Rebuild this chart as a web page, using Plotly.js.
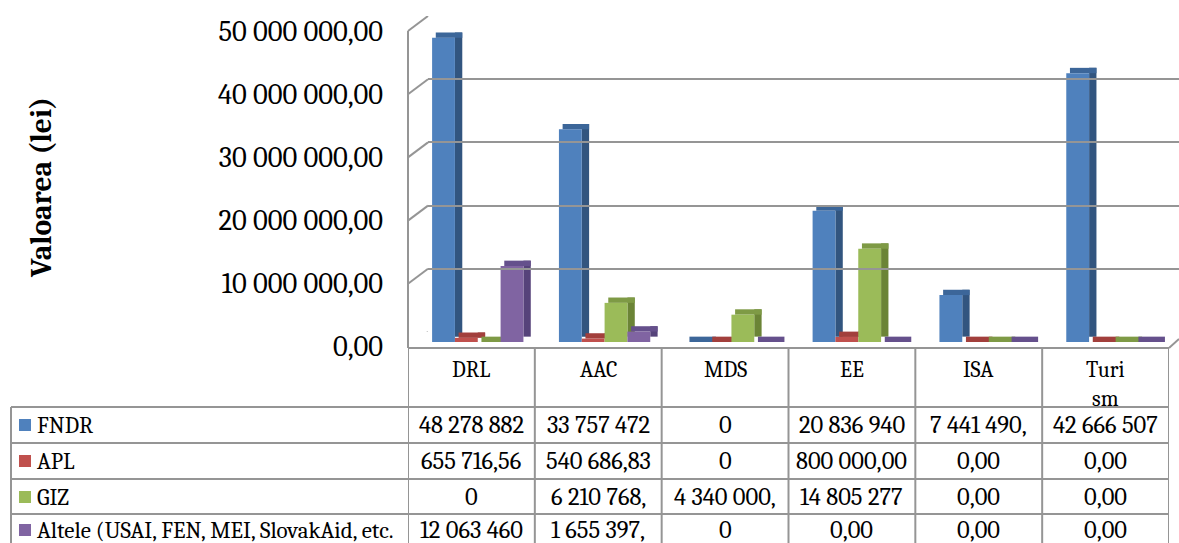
<!DOCTYPE html>
<html>
<head>
<meta charset="utf-8">
<script src="https://cdn.plot.ly/plotly-3.0.1.min.js"></script>
<style>html,body{margin:0;padding:0;background:#fff}#chart{width:1179px;height:543px}</style>
</head>
<body>
<div id="chart"></div>
<script>
// ---- data ----
const categories = ['DRL', 'AAC', 'MDS', 'EE', 'ISA', 'Turism'];
const headerLabels = ['DRL', 'AAC', 'MDS', 'EE', 'ISA', 'Turi<br>sm'];
const seriesNames = ['FNDR', 'APL', 'GIZ', 'Altele (USAI, FEN, MEI, SlovakAid, etc.'];
const fndr   = [48278882, 33757472, 0, 20836940, 7441490, 42666507];
const apl    = [655716.56, 540686.83, 0, 800000, 0, 0];
const giz    = [0, 6210768, 4340000, 14805277, 0, 0];
const altele = [12063460, 1655397, 0, 0, 0, 0];
const fndrCells   = ['48 278 882', '33 757 472', '0', '20 836 940', '7 441 490,', '42 666 507'];
const aplCells    = ['655 716,56', '540 686,83', '0', '800 000,00', '0,00', '0,00'];
const gizCells    = ['0', '6 210 768,', '4 340 000,', '14 805 277', '0,00', '0,00'];
const alteleCells = ['12 063 460', '1 655 397,', '0', '0,00', '0,00', '0,00'];
const tickValues = [0, 10000000, 20000000, 30000000, 40000000, 50000000];
const tickLabels = ['0,00', '10 000 000,00', '20 000 000,00', '30 000 000,00', '40 000 000,00', '50 000 000,00'];
const yTitle = 'Valoarea (lei)';

// ---- styling ----
const W = 1179, H = 543;
const px = x => x / W;
const py = y => 1 - y / H;
const FONT = 'Cambria';
const frontColors = ['#4F81BD', '#C0504D', '#9BBB59', '#8064A2'];
const sideColors  = ['#32557F', '#8A3431', '#6B8436', '#56437A'];
const topColors   = ['#3C6699', '#A23F3C', '#7E9A45', '#65508C'];
const gridColor = '#959595';

const seriesValues = [fndr, apl, giz, altele];
const seriesCells = [fndrCells, aplCells, gizCells, alteleCells];

const barW = 0.18, off0 = -0.31, dx = 0.058, dz = 850000;

const traces = [];
traces.push({type: 'scatter', x: [], y: [], xaxis: 'x2', yaxis: 'y2', showlegend: false, hoverinfo: 'skip'});
seriesValues.forEach((vals, k) => {
  traces.push({type: 'bar', x: categories, y: vals, base: dz, width: dx, offset: off0 + (k + 1) * barW,
    marker: {color: sideColors[k], line: {width: 0}}, showlegend: false, hoverinfo: 'skip'});
});
seriesValues.forEach((vals, k) => {
  traces.push({type: 'bar', x: categories, y: vals.map(() => dz), base: vals, width: barW + dx * 0.5,
    offset: off0 + k * barW + dx * 0.5,
    marker: {color: topColors[k], line: {width: 0}}, showlegend: false, hoverinfo: 'skip'});
});
seriesValues.forEach((vals, k) => {
  traces.push({type: 'bar', name: seriesNames[k], x: categories, y: vals, width: barW, offset: off0 + k * barW,
    marker: {color: frontColors[k], line: {width: 0}}, showlegend: false});
});

const lineStyle = {color: gridColor, width: 2};
const shapes = [];
shapes.push({type: 'line', xref: 'paper', yref: 'paper', x0: px(408), x1: px(408), y0: py(31), y1: py(348), line: lineStyle});
tickValues.forEach(v => {
  shapes.push({type: 'line', xref: 'paper', yref: 'y2', ysizemode: 'pixel', yanchor: v,
    x0: px(428), x1: px(408), y0: 0, y1: -15, line: lineStyle});
});
shapes.push({type: 'line', xref: 'paper', yref: 'paper', x0: px(1169), x1: px(1179), y0: py(348), y1: py(339), line: lineStyle});
shapes.push({type: 'line', xref: 'paper', yref: 'paper', x0: px(408), x1: px(1169), y0: py(348), y1: py(348), line: lineStyle});
for (let i = 0; i <= categories.length; i++) {
  shapes.push({type: 'line', xref: 'x', yref: 'paper', x0: i - 0.5, x1: i - 0.5, y0: py(348), y1: 0, line: lineStyle});
}
const rowLines = [407, 443, 479, 514];
rowLines.forEach(yy => {
  shapes.push({type: 'line', xref: 'paper', yref: 'paper', x0: px(11), x1: px(1169), y0: py(yy), y1: py(yy), line: lineStyle});
});
shapes.push({type: 'line', xref: 'paper', yref: 'paper', x0: px(11), x1: px(11), y0: py(407), y1: 0, line: lineStyle});

const rowCenters = [425, 461, 497, 530];
const annotations = [];
annotations.push({text: '<b>' + yTitle + '</b>', xref: 'paper', yref: 'paper', x: px(41), y: py(188),
  textangle: -90, showarrow: false, font: {family: FONT, size: 29.5, color: '#000'}, xanchor: 'center', yanchor: 'middle'});
headerLabels.forEach((lab, i) => {
  annotations.push({text: lab, xref: 'x', yref: 'paper', x: categories[i], y: py(355), yanchor: 'top',
    showarrow: false, font: {family: FONT, size: 22, color: '#000'}, align: 'center'});
});
seriesNames.forEach((nm, k) => {
  const cy = py(rowCenters[k]);
  shapes.push({type: 'rect', xref: 'paper', yref: 'paper', x0: px(19), x1: px(31),
    y0: py(rowCenters[k] + 6), y1: py(rowCenters[k] - 6), fillcolor: frontColors[k], line: {width: 0}});
  annotations.push({text: nm, xref: 'paper', yref: 'paper', x: px(35), y: cy, xanchor: 'left', yanchor: 'middle',
    showarrow: false, font: {family: FONT, size: 23, color: '#000'}});
  seriesCells[k].forEach((t, i) => {
    annotations.push({text: t, xref: 'x', yref: 'paper', x: categories[i], y: cy, xanchor: 'center', yanchor: 'middle',
      showarrow: false, font: {family: FONT, size: 24.5, color: '#000'}});
  });
});

const layout = {
  width: W, height: H,
  margin: {l: 0, r: 0, t: 0, b: 0},
  paper_bgcolor: '#fff', plot_bgcolor: 'rgba(0,0,0,0)',
  barmode: 'overlay',
  showlegend: false,
  xaxis: {domain: [px(408), px(1169)], type: 'category', range: [-0.5, 5.5], showticklabels: false,
    showgrid: false, zeroline: false, showline: false, ticks: '', fixedrange: true, anchor: 'y'},
  yaxis: {domain: [py(342), py(27)], range: [0, 50000000], tickvals: tickValues, ticktext: tickLabels,
    tickfont: {family: FONT, size: 28.5, color: '#000'}, showgrid: false, zeroline: false, showline: false,
    ticks: '', ticklabelstandoff: 24, ticklabelshift: 4, fixedrange: true, anchor: 'x'},
  xaxis2: {domain: [px(428), 1], range: [0, 1], visible: false, anchor: 'y2', fixedrange: true},
  yaxis2: {domain: [py(332), py(16)], range: [0, 50000000], tickvals: tickValues, showticklabels: false,
    showgrid: true, gridcolor: gridColor, gridwidth: 2, zeroline: false, showline: false, ticks: '',
    anchor: 'x2', fixedrange: true},
  shapes: shapes,
  annotations: annotations
};

Plotly.newPlot('chart', traces, layout, {displayModeBar: false, staticPlot: true});
</script>
</body>
</html>
